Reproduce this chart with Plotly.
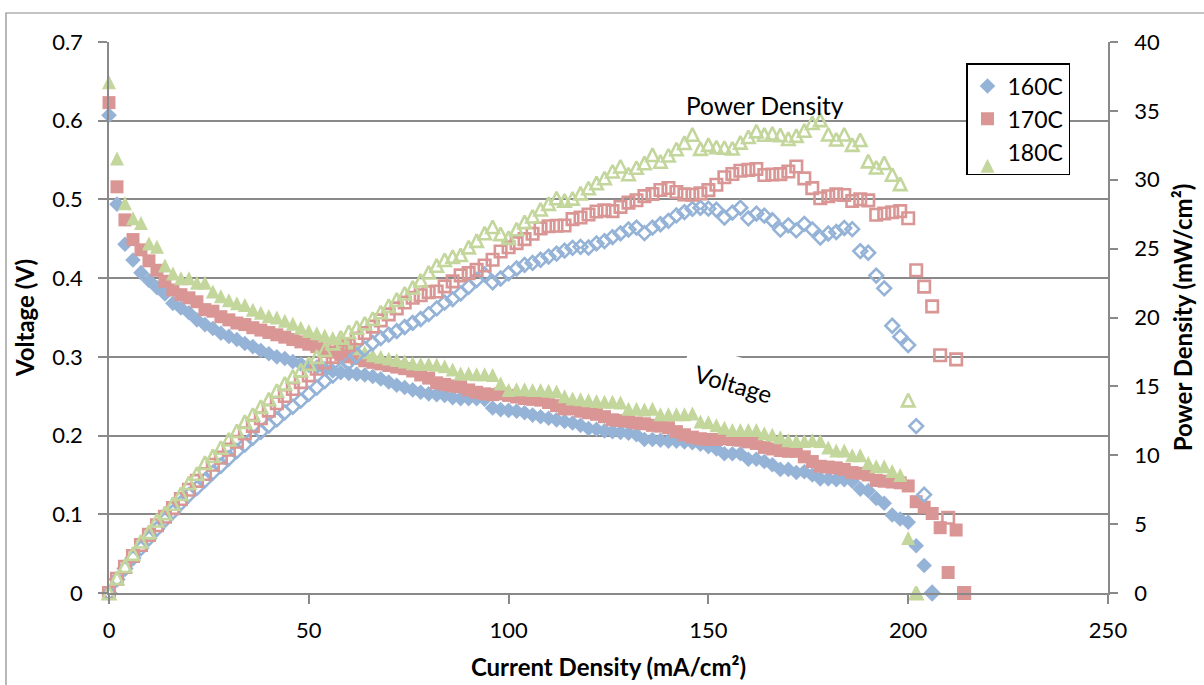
import plotly.graph_objects as go

# Current density steps (mA/cm2)
current = [0, 2, 4, 6, 8, 10, 12, 14, 16, 18, 20, 22, 24, 26, 28, 30, 32, 34, 36, 38,
           40, 42, 44, 46, 48, 50, 52, 54, 56, 58, 60, 62, 64, 66, 68, 70, 72, 74, 76, 78,
           80, 82, 84, 86, 88, 90, 92, 94, 96, 98, 100, 102, 104, 106, 108, 110, 112, 114,
           116, 118, 120, 122, 124, 126, 128, 130, 132, 134, 136, 138, 140, 142, 144, 146,
           148, 150, 152, 154, 156, 158, 160, 162, 164, 166, 168, 170, 172, 174, 176, 178,
           180, 182, 184, 186, 188, 190, 192, 194, 196, 198, 200, 202, 204, 206, 208, 210,
           212, 214]

# Cell voltage (V)
voltage_160 = [0.607, 0.494, 0.443, 0.423, 0.407, 0.397, 0.388, 0.380, 0.368, 0.362,
               0.356, 0.347, 0.341, 0.336, 0.330, 0.326, 0.322, 0.317, 0.313, 0.308,
               0.304, 0.300, 0.298, 0.294, 0.291, 0.289, 0.287, 0.285, 0.282, 0.280,
               0.279, 0.278, 0.277, 0.275, 0.272, 0.268, 0.264, 0.261, 0.258, 0.255,
               0.253, 0.252, 0.251, 0.248, 0.247, 0.247, 0.247, 0.246, 0.235, 0.233,
               0.232, 0.231, 0.229, 0.226, 0.224, 0.222, 0.220, 0.218, 0.216, 0.213,
               0.209, 0.208, 0.206, 0.205, 0.204, 0.203, 0.201, 0.195, 0.195, 0.194,
               0.193, 0.193, 0.192, 0.191, 0.189, 0.186, 0.183, 0.177, 0.177, 0.177,
               0.170, 0.170, 0.167, 0.163, 0.157, 0.157, 0.153, 0.154, 0.150, 0.145,
               0.145, 0.144, 0.144, 0.142, 0.132, 0.130, 0.120, 0.114, 0.099, 0.094,
               0.090, 0.060, 0.035, 0.000]

voltage_170 = [0.623, 0.516, 0.474, 0.449, 0.436, 0.422, 0.410, 0.396, 0.385, 0.379,
               0.375, 0.370, 0.360, 0.358, 0.351, 0.347, 0.343, 0.341, 0.337, 0.334,
               0.331, 0.328, 0.325, 0.322, 0.319, 0.316, 0.313, 0.310, 0.306, 0.303,
               0.300, 0.298, 0.295, 0.293, 0.291, 0.289, 0.287, 0.285, 0.282, 0.277,
               0.273, 0.267, 0.265, 0.263, 0.262, 0.258, 0.255, 0.253, 0.252, 0.253,
               0.251, 0.249, 0.247, 0.246, 0.245, 0.242, 0.238, 0.234, 0.234, 0.231,
               0.229, 0.227, 0.224, 0.220, 0.219, 0.218, 0.216, 0.215, 0.213, 0.212,
               0.210, 0.205, 0.201, 0.198, 0.196, 0.195, 0.195, 0.196, 0.195, 0.194,
               0.192, 0.190, 0.185, 0.183, 0.181, 0.180, 0.180, 0.173, 0.167, 0.161,
               0.160, 0.159, 0.157, 0.153, 0.152, 0.150, 0.143, 0.142, 0.141, 0.140,
               0.136, 0.116, 0.109, 0.101, 0.083, 0.026, 0.080, 0.000]

voltage_180 = [0.649, 0.552, 0.495, 0.476, 0.470, 0.444, 0.440, 0.416, 0.406, 0.400,
               0.400, 0.394, 0.394, 0.383, 0.377, 0.372, 0.368, 0.366, 0.360, 0.356,
               0.352, 0.350, 0.346, 0.342, 0.337, 0.333, 0.330, 0.327, 0.324, 0.320,
               0.316, 0.311, 0.306, 0.302, 0.300, 0.298, 0.296, 0.294, 0.292, 0.291,
               0.291, 0.290, 0.288, 0.284, 0.279, 0.279, 0.278, 0.278, 0.277, 0.266,
               0.258, 0.259, 0.259, 0.258, 0.258, 0.257, 0.256, 0.250, 0.247, 0.246,
               0.245, 0.244, 0.243, 0.243, 0.242, 0.234, 0.234, 0.233, 0.234, 0.227,
               0.227, 0.227, 0.227, 0.228, 0.218, 0.217, 0.213, 0.210, 0.207, 0.207,
               0.207, 0.207, 0.203, 0.201, 0.198, 0.194, 0.193, 0.193, 0.194, 0.193,
               0.185, 0.181, 0.181, 0.175, 0.175, 0.165, 0.161, 0.161, 0.155, 0.150,
               0.070, 0.000]

# Power density (mW/cm2)
power_160 = [0, 0.99, 1.77, 2.54, 3.26, 3.97, 4.66, 5.32, 5.89, 6.52,
             7.12, 7.63, 8.18, 8.74, 9.24, 9.78, 10.30, 10.78, 11.27, 11.70,
             12.16, 12.60, 13.11, 13.52, 13.97, 14.45, 14.92, 15.39, 15.79, 16.24,
             16.74, 17.24, 17.73, 18.15, 18.50, 18.76, 19.01, 19.31, 19.61, 19.89,
             20.24, 20.66, 21.08, 21.33, 21.74, 22.23, 22.72, 23.12, 22.56, 22.83,
             23.20, 23.56, 23.82, 23.96, 24.19, 24.42, 24.64, 24.85, 25.06, 25.13,
             25.08, 25.38, 25.54, 25.83, 26.11, 26.39, 26.53, 26.13, 26.52, 26.77,
             27.02, 27.41, 27.65, 27.89, 27.97, 27.90, 27.82, 27.26, 27.61, 27.97,
             27.20, 27.54, 27.39, 27.06, 26.38, 26.69, 26.32, 26.80, 26.40, 25.81,
             26.10, 26.21, 26.50, 26.41, 24.82, 24.70, 23.04, 22.12, 19.40, 18.61,
             18.00, 12.12, 7.14, 0]

power_170 = [0, 1.03, 1.90, 2.69, 3.49, 4.22, 4.92, 5.54, 6.16, 6.82,
             7.50, 8.14, 8.64, 9.31, 9.83, 10.41, 10.98, 11.59, 12.13, 12.69,
             13.24, 13.78, 14.30, 14.81, 15.31, 15.80, 16.28, 16.74, 17.14, 17.57,
             18.00, 18.48, 18.88, 19.34, 19.79, 20.23, 20.66, 21.09, 21.43, 21.61,
             21.84, 21.89, 22.26, 22.62, 23.06, 23.22, 23.46, 23.78, 24.19, 24.79,
             25.10, 25.40, 25.69, 26.08, 26.46, 26.62, 26.66, 26.68, 27.14, 27.26,
             27.48, 27.69, 27.78, 27.72, 28.03, 28.34, 28.51, 28.81, 28.97, 29.26,
             29.40, 29.11, 28.94, 28.91, 29.01, 29.25, 29.64, 30.18, 30.42, 30.65,
             30.72, 30.78, 30.34, 30.38, 30.41, 30.60, 30.96, 30.10, 29.39, 28.66,
             28.80, 28.94, 28.89, 28.46, 28.58, 28.50, 27.46, 27.55, 27.64, 27.72,
             27.20, 23.43, 22.24, 20.81, 17.26, 5.46, 16.96, 0]

power_180 = [0, 1.10, 1.98, 2.86, 3.76, 4.44, 5.28, 5.82, 6.50, 7.20,
             8.00, 8.67, 9.46, 9.96, 10.56, 11.16, 11.78, 12.44, 12.96, 13.53,
             14.08, 14.70, 15.22, 15.73, 16.18, 16.65, 17.16, 17.66, 18.14, 18.56,
             18.96, 19.28, 19.58, 19.93, 20.40, 20.86, 21.31, 21.76, 22.19, 22.70,
             23.28, 23.78, 24.19, 24.42, 24.55, 25.11, 25.58, 26.13, 26.59, 26.07,
             25.80, 26.42, 26.94, 27.35, 27.86, 28.27, 28.67, 28.50, 28.65, 29.03,
             29.40, 29.77, 30.13, 30.62, 30.98, 30.42, 30.89, 31.22, 31.82, 31.33,
             31.78, 32.23, 32.69, 33.29, 32.26, 32.55, 32.38, 32.34, 32.29, 32.71,
             33.12, 33.53, 33.29, 33.37, 33.26, 32.98, 33.20, 33.58, 34.14, 34.35,
             33.30, 32.94, 33.30, 32.55, 32.90, 31.35, 30.91, 31.23, 30.38, 29.70,
             14.00, 0]

labels = ["160C", "170C", "180C"]
voltages = [voltage_160, voltage_170, voltage_180]
powers = [power_160, power_170, power_180]

FONT = "Lato, 'Open Sans', sans-serif"
GRID = "#898989"
colors = ["#95B3D7", "#D99694", "#C3D69B"]

# marker shape per temperature
shapes = [
    dict(symbol="diamond", size=12, osize=10.5, angle=0, stand=0),
    dict(symbol="square", size=13, osize=11.5, angle=0, stand=0),
    # centred isoceles triangle: a flipped arrowhead pushed back by half its size
    dict(symbol="arrow-down", size=14, osize=12.5, angle=180, stand=0.5),
]

fig = go.Figure()

# voltage curves (filled markers, left axis)
for name, v, col, s in zip(labels, voltages, colors, shapes):
    fig.add_trace(go.Scatter(
        x=current[:len(v)], y=v, mode="markers", name=name,
        legendgroup=name,
        marker=dict(symbol=s["symbol"], size=s["size"], color=col,
                    angle=s["angle"], standoff=s["size"] * s["stand"],
                    line=dict(width=0)),
        cliponaxis=False, yaxis="y",
    ))

# power density curves (open markers, right axis)
for name, p, col, s in zip(labels, powers, colors, shapes):
    fig.add_trace(go.Scatter(
        x=current[:len(p)], y=p, mode="markers", name=name + " power",
        showlegend=False,
        marker=dict(symbol=s["symbol"] + "-open", size=s["osize"], color=col,
                    angle=s["angle"], standoff=s["osize"] * s["stand"],
                    line=dict(width=2.6, color=col)),
        cliponaxis=False, yaxis="y2",
    ))

axis_common = dict(
    showline=True, linecolor=GRID, linewidth=1.5,
    ticks="outside", tickcolor=GRID, tickwidth=1.5,
    zeroline=False, automargin=False,
    tickfont=dict(family=FONT, size=22, color="black"),
)
title_font = dict(family=FONT, size=24, color="black", weight="bold")

fig.update_layout(
    width=1204, height=685,
    margin=dict(l=109, r=96, t=42, b=92, pad=0, autoexpand=False),
    paper_bgcolor="white", plot_bgcolor="white",
    font=dict(family=FONT, color="black"),
    xaxis=dict(
        range=[0, 250], dtick=50, tick0=0, ticklen=9, showgrid=False,
        ticklabelstandoff=8,
        title=dict(text="Current Density (mA/cm²)", standoff=17, font=title_font),
        **axis_common,
    ),
    yaxis=dict(
        range=[0, 0.7], dtick=0.1, tick0=0, ticklen=9, ticklabelstandoff=11,
        showgrid=True, gridcolor=GRID, gridwidth=1.5,
        title=dict(text="Voltage (V)", standoff=11, font=title_font),
        **axis_common,
    ),
    yaxis2=dict(
        range=[0, 40], dtick=5, tick0=0, ticklen=8, ticklabelstandoff=12,
        overlaying="y", side="right", showgrid=False,
        title=dict(text="Power Density (mW/cm²)", standoff=16, font=title_font),
        **axis_common,
    ),
    legend=dict(
        x=(966 - 109) / 999, y=(593 - 63) / 551, xanchor="left", yanchor="top",
        bgcolor="white", bordercolor="black", borderwidth=1.5,
        font=dict(family=FONT, size=23, color="black"),
        tracegroupgap=0,
    ),
    showlegend=True,
)

fig.add_annotation(
    text="Power Density", x=(765 - 109) / 999, y=(593 - 89) / 551,
    xref="paper", yref="paper", showarrow=False,
    font=dict(family=FONT, size=24.5, color="black"),
)
fig.add_annotation(
    text="Voltage", x=(733 - 109) / 999, y=(593 - 383) / 551,
    xref="paper", yref="paper", showarrow=False, textangle=16,
    bgcolor="white", borderpad=12,
    font=dict(family=FONT, size=24, color="black"),
)

# chart-area frame
fig.add_shape(
    type="rect", xref="paper", yref="paper",
    x0=(6 - 109) / 999, y0=-0.5, x1=1.3, y1=(593 - 13) / 551,
    line=dict(color=GRID, width=1.2), fillcolor="rgba(0,0,0,0)", layer="below",
)

fig.write_html("out.html")
